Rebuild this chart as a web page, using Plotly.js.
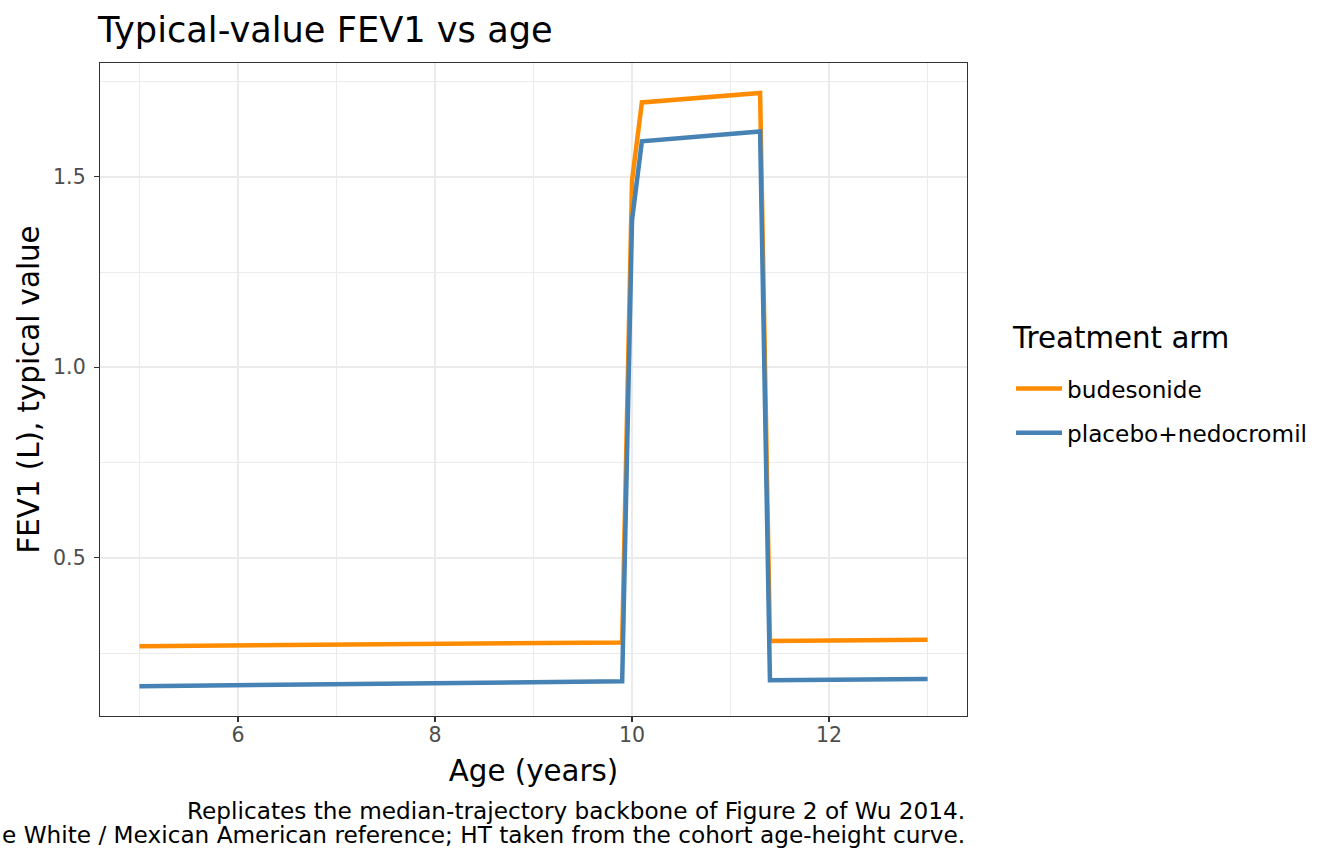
<!DOCTYPE html>
<html>
<head>
<meta charset="utf-8">
<script src="https://cdn.plot.ly/plotly-3.0.1.min.js"></script>
<style>
  html, body { margin: 0; padding: 0; background: #ffffff; }
  #chart { width: 1344px; height: 864px; }
</style>
</head>
<body>
<div id="chart"></div>
<script>
// Typical-value FEV1 trajectories by treatment arm
const ageBudesonide = [5, 9.9, 10, 10.1, 11.3, 11.4, 13];
const fevBudesonide = [0.268, 0.278, 1.49, 1.695, 1.720, 0.282, 0.285];

const agePlacebo = [5, 9.9, 10, 10.1, 11.3, 11.4, 13];
const fevPlacebo = [0.163, 0.176, 1.386, 1.593, 1.619, 0.179, 0.182];

const armNames = ["budesonide", "placebo+nedocromil"];
const armColors = ["#FF8C00", "#4682B4"];

const xTicks = [6, 8, 10, 12];
const xMinorTicks = [5, 7, 9, 11, 13];
const yTicks = [0.5, 1.0, 1.5];
const yTickText = ["0.5", "1.0", "1.5"];
const yMinorTicks = [0.25, 0.75, 1.25, 1.75];

const legendTitle = "Treatment arm";
const captionLines = [
  "Replicates the median-trajectory backbone of Figure 2 of Wu 2014.",
  "e White / Mexican American reference; HT taken from the cohort age-height curve."
];

const FONT = "DejaVu Sans, sans-serif";
const TICK = 20.5;
const SMALL = 23.2;
const MEDIUM = 29.3;
const LARGE = 35.2;

// plot area in pixels
const M = { l: 100, r: 377, t: 63, b: 148 };
const PW = 1344 - M.l - M.r;
const PH = 864 - M.t - M.b;
const px2x = p => (p - M.l) / PW;
const px2y = p => (864 - M.b - p) / PH;

const traces = [
  { x: ageBudesonide, y: fevBudesonide, name: armNames[0] },
  { x: agePlacebo, y: fevPlacebo, name: armNames[1] }
].map((t, i) => ({
  type: "scatter",
  mode: "lines",
  x: t.x,
  y: t.y,
  name: t.name,
  legendgroup: "g" + i,
  line: { color: armColors[i], width: 4.5 },
  hoverinfo: "x+y+name"
}));

const axisCommon = {
  showline: true,
  mirror: true,
  linecolor: "#333333",
  linewidth: 1.2,
  ticks: "outside",
  ticklen: 5,
  tickwidth: 1.2,
  tickcolor: "#333333",
  showgrid: true,
  gridcolor: "#ebebeb",
  gridwidth: 2,
  zeroline: false,
  tickfont: { family: FONT, size: TICK, color: "#4d4d4d" }
};

const layout = {
  width: 1344,
  height: 864,
  paper_bgcolor: "#ffffff",
  plot_bgcolor: "#ffffff",
  margin: M,
  title: {
    text: "Typical-value FEV1 vs age",
    font: { family: FONT, size: LARGE, color: "#000000" },
    x: 98 / 1344,
    xanchor: "left",
    xref: "container",
    y: 1 - 30 / 864,
    yanchor: "middle",
    yref: "container"
  },
  xaxis: Object.assign({}, axisCommon, {
    range: [4.6, 13.4],
    tickvals: xTicks,
    ticktext: xTicks.map(String),
    ticklabelstandoff: -5,
    minor: { tickvals: xMinorTicks, showgrid: true, gridcolor: "#ebebeb", gridwidth: 1, ticks: "" },
    title: { text: "Age (years)", standoff: 14, font: { family: FONT, size: MEDIUM, color: "#000000" } }
  }),
  yaxis: Object.assign({}, axisCommon, {
    range: [0.085, 1.7985],
    tickvals: yTicks,
    ticktext: yTickText,
    ticklabelstandoff: 4,
    minor: { tickvals: yMinorTicks, showgrid: true, gridcolor: "#ebebeb", gridwidth: 1, ticks: "" },
    title: { text: "FEV1 (L), typical value", standoff: 4, font: { family: FONT, size: MEDIUM, color: "#000000" } }
  }),
  showlegend: true,
  legend: {
    x: px2x(1011),
    xanchor: "left",
    y: px2y(411),
    yanchor: "middle",
    bgcolor: "rgba(0,0,0,0)",
    font: { family: FONT, size: SMALL, color: "#000000" },
    traceorder: "grouped",
    tracegroupgap: 11,
    itemwidth: 46
  },
  annotations: [
    {
      text: legendTitle,
      xref: "paper",
      yref: "paper",
      x: px2x(1010),
      xanchor: "left",
      y: px2y(338),
      yanchor: "middle",
      showarrow: false,
      font: { family: FONT, size: MEDIUM, color: "#000000" }
    }
  ].concat(captionLines.map((txt, i) => ({
    text: txt,
    xref: "paper",
    yref: "paper",
    x: 1,
    xanchor: "right",
    y: px2y(810 + i * 24),
    yanchor: "middle",
    showarrow: false,
    font: { family: FONT, size: SMALL, color: "#000000" }
  })))
};

Plotly.newPlot("chart", traces, layout, { displayModeBar: false, staticPlot: true });
</script>
</body>
</html>
